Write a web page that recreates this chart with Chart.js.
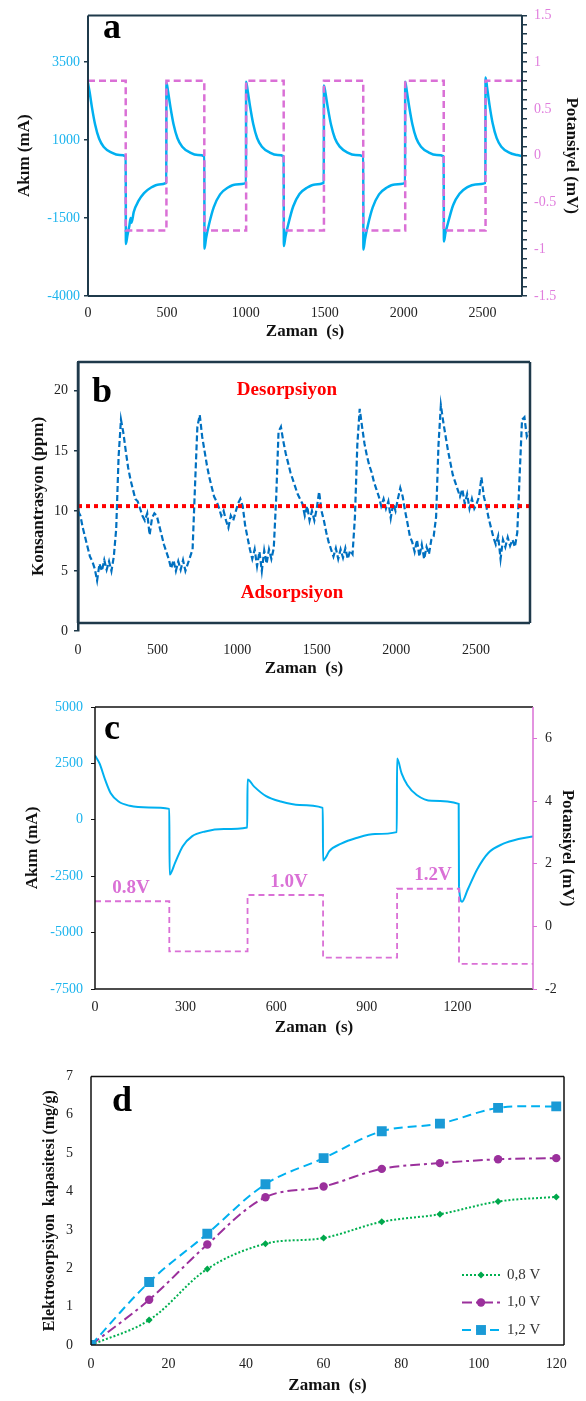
<!DOCTYPE html>
<html>
<head>
<meta charset="utf-8">
<script src="https://cdn.jsdelivr.net/npm/chart.js@4.4.1/dist/chart.umd.min.js"></script>
<style>
  body { margin: 0; background: #fff; width: 586px; height: 1401px; position: relative; overflow: hidden; }
  .panel { position: absolute; left: 0; width: 586px; }
</style>
</head>
<body>
<div class="panel" style="top:0;height:346px"><canvas id="chartA"></canvas></div>
<div class="panel" style="top:346px;height:337px"><canvas id="chartB"></canvas></div>
<div class="panel" style="top:690px;height:352px"><canvas id="chartC"></canvas></div>
<div class="panel" style="top:1050px;height:350px"><canvas id="chartD"></canvas></div>
<script>
// ── Panel a: current + potential square wave ────────────────────────────────
const A_CURRENT = [
  [0, 2830], [10, 2550], [25, 2050], [45, 1500], [70, 1050], [100, 780], [150, 600], [200, 520], [239, 480],
  [240, -2330], [250, -2050], [262, -1750], [270, -1500], [276, -1650], [290, -1300], [320, -950], [355, -700], [400, -520], [450, -420], [496, -370],
  [497, 2850], [507, 2570], [522, 2070], [542, 1510], [567, 1060], [597, 790], [647, 600], [697, 520], [737, 480],
  [738, -2480], [748, -2150], [767, -1700], [797, -1150], [837, -740], [887, -520], [937, -420], [1001, -370],
  [1002, 2870], [1012, 2580], [1027, 2080], [1047, 1520], [1072, 1060], [1102, 790], [1152, 600], [1202, 520], [1240, 480],
  [1241, -2400], [1251, -2100], [1270, -1680], [1300, -1130], [1340, -730], [1390, -520], [1440, -420], [1494, -370],
  [1495, 2750], [1505, 2500], [1520, 2030], [1540, 1490], [1565, 1050], [1595, 790], [1645, 600], [1695, 520], [1744, 480],
  [1745, -2510], [1755, -2180], [1774, -1720], [1804, -1160], [1844, -740], [1894, -520], [1944, -420], [2009, -370],
  [2010, 2870], [2020, 2580], [2035, 2080], [2055, 1520], [2080, 1060], [2110, 790], [2160, 600], [2210, 520], [2254, 480],
  [2255, -2250], [2265, -1980], [2284, -1600], [2314, -1080], [2354, -720], [2404, -510], [2454, -420], [2518, -370],
  [2519, 3010], [2529, 2680], [2544, 2130], [2564, 1540], [2589, 1070], [2619, 790], [2669, 600], [2719, 520], [2750, 490]
];
const A_SWITCH = [0, 239, 497, 737, 1002, 1240, 1495, 1744, 2010, 2254, 2519, 2750];
const A_LEVELS = [0.8, -0.8, 0.8, -0.8, 0.8, -0.8, 0.8, -0.8, 0.8, -0.8, 0.8];
const A_X_TICKS = [0, 500, 1000, 1500, 2000, 2500];
const A_LEFT_TICKS = [-4000, -1500, 1000, 3500];
const A_RIGHT_LABELS = [-1.5, -1, -0.5, 0, 0.5, 1, 1.5];

// ── Panel b: concentration, one reading every 15 s ─────────────────────────
const B_STEP = 15;
const B_CONC = [
  10.0, 9.6, 8.6, 7.8, 7.0, 6.2, 5.8, 5.2, 4.2, 5.6,
  5.0, 5.9, 5.1, 5.8, 5.0, 6.2, 8.5, 14.5, 17.6, 16.5,
  15.0, 13.6, 12.6, 11.8, 11.0, 10.8, 10.2, 9.6, 9.2, 9.8,
  8.0, 9.4, 9.8, 9.6, 8.8, 8.0, 7.2, 6.6, 6.0, 5.2,
  5.9, 5.0, 5.8, 5.1, 5.9, 5.0, 5.6, 6.2, 6.8, 12.0,
  17.0, 18.0, 16.2, 15.0, 13.8, 12.8, 12.0, 11.2, 10.8, 10.3,
  9.6, 10.0, 9.2, 8.6, 9.6, 9.2, 9.9, 10.6, 11.0, 10.4,
  8.8, 7.8, 6.8, 6.0, 6.8, 5.4, 6.6, 5.0, 6.7, 5.6,
  6.8, 6.0, 6.9, 11.0, 16.6, 17.0, 15.8, 14.8, 14.0, 13.2,
  12.6, 12.0, 11.4, 11.0, 10.6, 9.6, 10.4, 9.2, 10.0, 9.2,
  10.2, 11.6, 10.0, 9.2, 8.2, 7.4, 6.8, 6.2, 6.9, 6.0,
  6.8, 6.1, 6.9, 6.0, 6.7, 6.4, 9.5, 15.5, 18.5, 17.0,
  15.6, 14.6, 13.8, 13.2, 12.4, 11.8, 11.2, 10.4, 11.0, 10.2,
  10.8, 9.4, 10.6, 10.0, 11.0, 11.9, 11.2, 10.0, 9.0, 7.9,
  7.4, 6.6, 7.6, 6.2, 7.2, 6.0, 7.0, 6.4, 7.6, 7.9,
  9.5, 15.5, 18.8, 17.4, 16.2, 15.0, 14.0, 13.0, 12.4, 11.8,
  11.2, 11.8, 10.6, 11.4, 10.2, 11.0, 10.2, 10.6, 11.2, 12.8,
  11.2, 10.4, 9.4, 8.6, 7.8, 7.2, 7.9, 6.0, 7.6, 7.0,
  7.8, 7.1, 7.6, 7.0, 8.2, 13.0, 17.6, 17.8, 16.2, 16.6
];
const B_THRESHOLD = 10.4;
const B_X_TICKS = [0, 500, 1000, 1500, 2000, 2500];
const B_Y_TICKS = [0, 5, 10, 15, 20];

// ── Panel c: three voltage steps ────────────────────────────────────────────
const C_CURRENT = [
  [0, 2850], [15, 2500], [34, 1760], [52, 1180], [78, 810], [115, 620], [178, 545], [246, 485],
  [247, -2430], [265, -1910], [290, -1180], [321, -735], [365, -515], [427, -410], [504, -340],
  [505, 1790], [527, 1470], [565, 1060], [615, 810], [677, 660], [754, 530],
  [755, -1800], [765, -1650], [775, -1400], [815, -1060], [865, -810], [927, -630], [999, -545],
  [1000, 2720], [1015, 2060], [1034, 1545], [1065, 1100], [1115, 840], [1204, 705],
  [1205, -2940], [1215, -3630], [1234, -3090], [1265, -2200], [1302, -1470], [1352, -1060], [1402, -850], [1450, -735]
];
const C_SWITCH = [0, 246, 505, 755, 1000, 1205, 1450];
const C_LEVELS = [0.8, -0.8, 1.0, -1.0, 1.2, -1.2];
const C_X_TICKS = [0, 300, 600, 900, 1200];
const C_LEFT_TICKS = [-7500, -5000, -2500, 0, 2500, 5000];
const C_RIGHT_TICKS = [-2, 0, 2, 4, 6];

// ── Panel d: electrosorption capacity ───────────────────────────────────────
const D_TIME = [0, 15, 30, 45, 60, 75, 90, 105, 120];
const D_08V = [0, 0.65, 1.98, 2.64, 2.79, 3.21, 3.41, 3.74, 3.86];
const D_10V = [0, 1.18, 2.62, 3.85, 4.13, 4.59, 4.74, 4.84, 4.87];
const D_12V = [0, 1.64, 2.90, 4.19, 4.87, 5.57, 5.77, 6.18, 6.22];
const D_LABELS = ["0,8 V", "1,0 V", "1,2 V"];
const D_X_TICKS = [0, 20, 40, 60, 80, 100, 120];
const D_Y_TICKS = [0, 1, 2, 3, 4, 5, 6, 7];

// ── Styles ──────────────────────────────────────────────────────────────────
const SERIF = "'Liberation Serif', 'Times New Roman', serif";
const BLUE = "#00B0F0";
const BLUE_TXT = "#1CB4EE";
const PINK = "#DA70D6";
const PINK_TXT = "#E07EDD";
const NAVY = "#1F3A4B";
const INK = "#222";

Chart.defaults.font.family = SERIF;
Chart.defaults.color = INK;

const pairs = arr => arr.map(([x, y]) => ({ x, y }));
const steps = (times, levels) => levels.flatMap((v, i) => [{ x: times[i], y: v }, { x: times[i + 1], y: v }]);
const fixedTicks = list => s => { s.ticks = list.map(v => ({ value: v })); };
const plain = v => String(v);
const tickFont = { size: 14, family: SERIF };
const titleFont = { size: 17, weight: "bold", family: SERIF };

const BASE = {
  animation: false,
  responsive: true,
  maintainAspectRatio: false,
  events: [],
};

// frame lines around the plot area
const framePlugin = {
  id: "frame",
  afterDraw(chart, args, o) {
    const { ctx, chartArea: a } = chart;
    const bottom = a.bottom - (o.inset || 0);
    const sides = o.sides || {};
    ctx.save();
    ctx.lineWidth = o.width || 1.5;
    const seg = (c, x1, y1, x2, y2) => {
      if (!c) return;
      ctx.strokeStyle = c;
      ctx.beginPath(); ctx.moveTo(x1, y1); ctx.lineTo(x2, y2); ctx.stroke();
    };
    seg(sides.top, a.left, a.top, a.right, a.top);
    seg(sides.bottom, a.left, bottom, a.right, bottom);
    seg(sides.left, a.left, a.top, a.left, bottom);
    seg(sides.right, a.right, a.top, a.right, bottom);
    ctx.restore();
  }
};

// free text labels (panel letters, annotations)
const textPlugin = {
  id: "texts",
  afterDraw(chart, args, o) {
    const { ctx } = chart;
    (o.items || []).forEach(it => {
      ctx.save();
      ctx.font = it.font;
      ctx.fillStyle = it.color || "#000";
      ctx.textAlign = it.align || "center";
      ctx.textBaseline = "middle";
      ctx.fillText(it.text, it.x, it.y);
      ctx.restore();
    });
  }
};

// legend with line sample + marker
const lineLegendPlugin = {
  id: "lineLegend",
  afterDraw(chart, args, o) {
    const { ctx } = chart;
    o.order.forEach((di, row) => {
      const ds = chart.data.datasets[di];
      const y = o.y + row * o.gap;
      const mx = o.x + o.len / 2;
      ctx.save();
      ctx.strokeStyle = ds.borderColor;
      ctx.lineWidth = ds.borderWidth;
      ctx.setLineDash(ds.borderDash || []);
      ctx.beginPath(); ctx.moveTo(o.x, y); ctx.lineTo(o.x + o.len, y); ctx.stroke();
      ctx.setLineDash([]);
      ctx.fillStyle = ds.pointBackgroundColor;
      const r = ds.pointRadius;
      ctx.beginPath();
      if (ds.pointStyle === "circle") ctx.arc(mx, y, r, 0, Math.PI * 2);
      else if (ds.pointStyle === "rect") { const h = r * Math.SQRT1_2; ctx.rect(mx - h, y - h, 2 * h, 2 * h); }
      else { ctx.moveTo(mx, y - r); ctx.lineTo(mx + r, y); ctx.lineTo(mx, y + r); ctx.lineTo(mx - r, y); ctx.closePath(); }
      ctx.fill();
      ctx.font = "15px " + SERIF;
      ctx.fillStyle = "#333";
      ctx.textAlign = "left";
      ctx.textBaseline = "middle";
      ctx.fillText(D_LABELS[di], o.x + o.len + 7, y);
      ctx.restore();
    });
  }
};

// ── Panel a ─────────────────────────────────────────────────────────────────
new Chart(document.getElementById("chartA"), {
  type: "line",
  data: {
    datasets: [
      { data: steps(A_SWITCH, A_LEVELS), yAxisID: "y2", borderColor: PINK, borderWidth: 2.5, borderDash: [7, 4], pointRadius: 0, tension: 0 },
      { data: pairs(A_CURRENT), yAxisID: "y", borderColor: BLUE, borderWidth: 2.5, pointRadius: 0, cubicInterpolationMode: "monotone" },
    ]
  },
  options: {
    ...BASE,
    layout: { padding: { left: 10, top: 7, right: 0, bottom: 0 } },
    plugins: {
      legend: { display: false }, tooltip: { enabled: false },
      frame: { width: 2, sides: { top: NAVY, bottom: NAVY, left: NAVY, right: NAVY } },
      texts: { items: [{ text: "a", x: 112, y: 29, font: "bold 36px " + SERIF }] },
    },
    scales: {
      x: {
        type: "linear", min: 0, max: 2750,
        afterBuildTicks: fixedTicks(A_X_TICKS),
        afterFit: s => { s.height = 50; },
        ticks: { font: tickFont, color: INK, padding: 9, autoSkip: false, maxRotation: 0, callback: plain },
        grid: { display: false, drawTicks: false }, border: { display: false },
        title: { display: true, text: "Zaman  (s)", font: titleFont, color: "#111" },
      },
      y: {
        position: "left", min: -4000, max: 5000,
        afterBuildTicks: fixedTicks(A_LEFT_TICKS),
        afterFit: s => { s.width = 78; },
        ticks: { font: tickFont, color: BLUE_TXT, padding: 4, callback: plain },
        grid: { drawOnChartArea: false, tickLength: 4, color: NAVY, lineWidth: 1.5 }, border: { display: false },
        title: { display: true, text: "Akım (mA)", font: titleFont, color: "#111" },
      },
      y2: {
        position: "right", min: -1.5, max: 1.5,
        afterBuildTicks: s => { const t = []; for (let k = -15; k <= 15; k++) t.push({ value: k / 10 }); s.ticks = t; },
        afterFit: s => { s.width = 64; },
        ticks: {
          font: tickFont, color: PINK_TXT, padding: 7, autoSkip: false,
          callback: v => { const r = Math.round(v * 10) / 10; return A_RIGHT_LABELS.includes(r) ? String(r) : ""; }
        },
        grid: { drawOnChartArea: false, tickLength: 5, color: NAVY, lineWidth: 1.5 }, border: { display: false },
        title: { display: true, text: "Potansiyel (mV)", font: titleFont, color: "#111" },
      },
    }
  },
  plugins: [framePlugin, textPlugin]
});

// ── Panel b ─────────────────────────────────────────────────────────────────
new Chart(document.getElementById("chartB"), {
  type: "line",
  data: {
    datasets: [
      { data: [{ x: 0, y: B_THRESHOLD }, { x: 2840, y: B_THRESHOLD }], borderColor: "#FF0000", borderWidth: 4, borderDash: [4, 4], pointRadius: 0 },
      { data: B_CONC.map((v, i) => ({ x: i * B_STEP, y: v })), borderColor: "#0070C0", borderWidth: 2.2, borderDash: [6, 3], pointRadius: 0, tension: 0 },
    ]
  },
  options: {
    ...BASE,
    layout: { padding: { left: 24, top: 16, right: 56, bottom: 0 } },
    plugins: {
      legend: { display: false }, tooltip: { enabled: false },
      frame: { width: 2.5, inset: 8, sides: { top: NAVY, bottom: NAVY, left: NAVY, right: NAVY } },
      texts: {
        items: [
          { text: "b", x: 102, y: 47, font: "bold 36px " + SERIF },
          { text: "Desorpsiyon", x: 287, y: 44, font: "bold 19px " + SERIF, color: "#FF0000" },
          { text: "Adsorpsiyon", x: 292, y: 247, font: "bold 19px " + SERIF, color: "#FF0000" },
        ]
      },
    },
    scales: {
      x: {
        type: "linear", min: 0, max: 2840,
        afterBuildTicks: fixedTicks(B_X_TICKS),
        afterFit: s => { s.height = 52; },
        ticks: { font: tickFont, color: INK, padding: 11, autoSkip: false, maxRotation: 0, callback: plain },
        grid: { display: false, drawTicks: false }, border: { display: false },
        title: { display: true, text: "Zaman  (s)", font: titleFont, color: "#111" },
      },
      y: {
        min: 0, max: 22.4,
        afterBuildTicks: fixedTicks(B_Y_TICKS),
        afterFit: s => { s.width = 54; },
        ticks: { font: tickFont, color: INK, padding: 6, callback: plain },
        grid: { drawOnChartArea: false, tickLength: 4, color: NAVY, lineWidth: 1.5 },
        border: { display: true, color: NAVY, width: 2.5 },
        title: { display: true, text: "Konsantrasyon (ppm)", font: titleFont, color: "#111" },
      },
    }
  },
  plugins: [framePlugin, textPlugin]
});

// ── Panel c ─────────────────────────────────────────────────────────────────
new Chart(document.getElementById("chartC"), {
  type: "line",
  data: {
    datasets: [
      { data: steps(C_SWITCH, C_LEVELS), yAxisID: "y2", borderColor: PINK, borderWidth: 1.8, borderDash: [6, 4], pointRadius: 0, tension: 0 },
      { data: pairs(C_CURRENT), yAxisID: "y", borderColor: BLUE, borderWidth: 2, pointRadius: 0, cubicInterpolationMode: "monotone" },
    ]
  },
  options: {
    ...BASE,
    layout: { padding: { left: 18, top: 17, right: 4, bottom: 0 } },
    plugins: {
      legend: { display: false }, tooltip: { enabled: false },
      frame: { width: 1.5, sides: { top: "#111", bottom: "#111", left: "#111", right: PINK } },
      texts: {
        items: [
          { text: "c", x: 112, y: 40, font: "bold 36px " + SERIF },
          { text: "0.8V", x: 131, y: 198, font: "bold 19px " + SERIF, color: PINK },
          { text: "1.0V", x: 289, y: 192, font: "bold 19px " + SERIF, color: PINK },
          { text: "1.2V", x: 433, y: 185, font: "bold 19px " + SERIF, color: PINK },
        ]
      },
    },
    scales: {
      x: {
        type: "linear", min: 0, max: 1450,
        afterBuildTicks: fixedTicks(C_X_TICKS),
        afterFit: s => { s.height = 53; },
        ticks: { font: tickFont, color: INK, padding: 10, autoSkip: false, maxRotation: 0, callback: plain },
        grid: { display: false, drawTicks: false }, border: { display: false },
        title: { display: true, text: "Zaman  (s)", font: titleFont, color: "#111" },
      },
      y: {
        position: "left", min: -7500, max: 5000,
        afterBuildTicks: fixedTicks(C_LEFT_TICKS),
        afterFit: s => { s.width = 77; },
        ticks: { font: tickFont, color: BLUE_TXT, padding: 8, callback: plain },
        grid: { drawOnChartArea: false, tickLength: 4, color: "#111", lineWidth: 1 }, border: { display: false },
        title: { display: true, text: "Akım (mA)", font: titleFont, color: "#111" },
      },
      y2: {
        position: "right", min: -2, max: 7,
        afterBuildTicks: fixedTicks(C_RIGHT_TICKS),
        afterFit: s => { s.width = 49; },
        ticks: { font: tickFont, color: INK, padding: 8, callback: plain },
        grid: { drawOnChartArea: false, tickLength: 4, color: PINK, lineWidth: 1 }, border: { display: false },
        title: { display: true, text: "Potansiyel (mV)", font: titleFont, color: "#111" },
      },
    }
  },
  plugins: [framePlugin, textPlugin]
});

// ── Panel d ─────────────────────────────────────────────────────────────────
const dSeries = (vals, color, marker, style, radius, dash, order) => ({
  data: D_TIME.map((t, i) => ({ x: t, y: vals[i] })),
  borderColor: color, borderWidth: 2, borderDash: dash, tension: 0.35,
  pointStyle: style, pointRadius: radius, pointBackgroundColor: marker, pointBorderColor: marker, pointBorderWidth: 0,
  order
});

new Chart(document.getElementById("chartD"), {
  type: "line",
  data: {
    datasets: [
      dSeries(D_08V, "#00B050", "#00A84C", "rectRot", 3.5, [2, 2], 2),
      dSeries(D_10V, "#9B309C", "#9B309C", "circle", 4.2, [10, 4, 3, 4], 1),
      dSeries(D_12V, "#00B0F0", "#1A9AD6", "rect", 7, [9, 5], 0),
    ]
  },
  options: {
    ...BASE,
    layout: { padding: { left: 36, top: 25, right: 22, bottom: 0 } },
    plugins: {
      legend: { display: false }, tooltip: { enabled: false },
      frame: { width: 1.5, sides: { top: "#111", bottom: "#111", left: "#111", right: "#111" } },
      texts: { items: [{ text: "d", x: 122, y: 52, font: "bold 36px " + SERIF }] },
      lineLegend: { order: [0, 1, 2], x: 462, y: 225, gap: 27.5, len: 38 },
    },
    scales: {
      x: {
        type: "linear", min: 0, max: 122,
        afterBuildTicks: fixedTicks(D_X_TICKS),
        afterFit: s => { s.height = 55; },
        ticks: { font: tickFont, color: INK, padding: 11, autoSkip: false, maxRotation: 0, callback: plain },
        grid: { display: false, drawTicks: false }, border: { display: false },
        title: { display: true, text: "Zaman  (s)", font: titleFont, color: "#111" },
      },
      y: {
        min: 0, max: 7,
        afterBuildTicks: fixedTicks(D_Y_TICKS),
        afterFit: s => { s.width = 55; },
        ticks: { font: tickFont, color: INK, padding: 18, callback: plain },
        grid: { display: false, drawTicks: false }, border: { display: false },
        title: { display: true, text: "Elektrosorpsiyon  kapasitesi (mg/g)", font: { size: 16, weight: "bold", family: SERIF }, color: "#111" },
      },
    }
  },
  plugins: [framePlugin, textPlugin, lineLegendPlugin]
});
</script>
</body>
</html>
